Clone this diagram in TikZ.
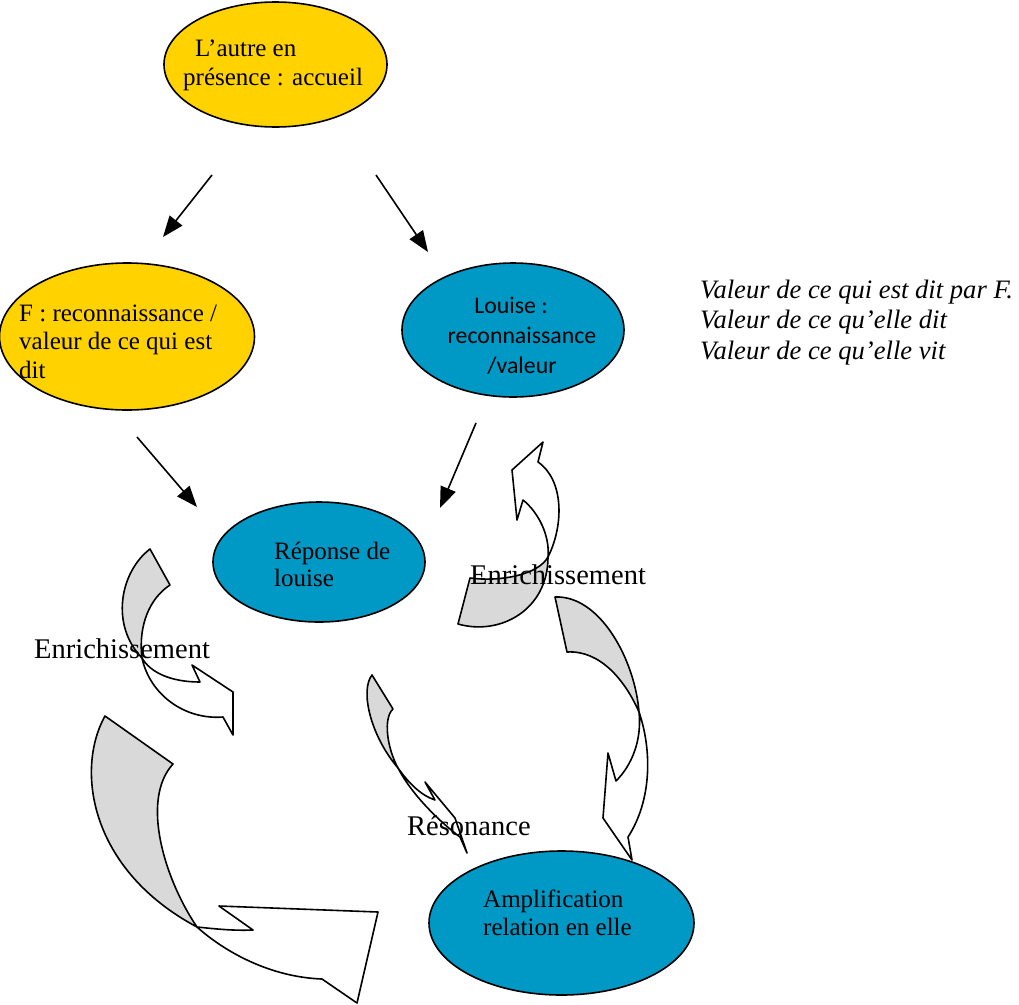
\documentclass[tikz,border=0pt]{standalone}
\usepackage{fontspec}
\setmainfont{Liberation Serif}
\newfontfamily\louisefont{Carlito}
\usetikzlibrary{shapes.geometric}
\usetikzlibrary{arrows, arrows.meta}

\definecolor{bulle jaune}{RGB}{255,210,0}
\definecolor{bulle bleue}{RGB}{0,152,196}
\definecolor{pli gris}{RGB}{217,217,217}

\begin{document}
\begin{tikzpicture}[x=1pt, y=-1pt]

\useasboundingbox (0, 0) rectangle (1019, 1004) ;

\def\trait{1.6pt}

% ellipses

\tikzstyle{bulle} = [shape=ellipse, draw=black, line width=\trait, inner sep=0pt]
\tikzstyle{texte bulle} = [anchor=base west, align=left, inner sep=0pt, font=\fontsize{25}{29}\selectfont]

\node [bulle, fill=bulle jaune, minimum width=223pt, minimum height=125pt] (accueil) at (275.5, 64.5) {} ;
\node [bulle, fill=bulle jaune, minimum width=255pt, minimum height=147pt] (reconnaissance F) at (127, 336.5) {} ;
\node [bulle, fill=bulle bleue, minimum width=222pt, minimum height=134pt] (reconnaissance louise) at (513, 330) {} ;
\node [bulle, fill=bulle bleue, minimum width=212pt, minimum height=120pt] (reponse) at (319, 562) {} ;
\node [bulle, fill=bulle bleue, minimum width=265pt, minimum height=144pt] (amplification) at (561.5, 923) {} ;

% (the base anchor sits on the last line)
\node [texte bulle] (accueil texte) at (183, 85.7) {\hspace*{12pt}L’autre en\\présence : accueil} ;
\node [texte bulle, font=\fontsize{25}{28.3}\selectfont] (F texte) at (19, 378) {F : reconnaissance /\\valeur de ce qui est\\dit} ;
\node [texte bulle, align=center, anchor=base, font=\louisefont\fontsize{23.8}{30}\selectfont] (louise texte) at (522, 373)
	{Louise :\hspace*{22pt}\\reconnaissance\\/valeur} ;
\node [texte bulle, font=\fontsize{25}{27}\selectfont] (reponse texte) at (274, 586) {Réponse de\\louise} ;
\node [texte bulle, font=\fontsize{25}{28}\selectfont] (amplification texte) at (483, 935) {Amplification\\relation en elle} ;

% straight arrows

\tikzstyle{fleche} = [line width=\trait, -{Triangle[length=21pt, width=16pt]}]

\coordinate (depart gauche) at (212, 175) ;
\coordinate (arrivee gauche) at (163, 237) ;
\coordinate (depart droit) at (376, 175) ;
\coordinate (arrivee droit) at (428, 252) ;
\coordinate (depart F) at (137, 437) ;
\coordinate (arrivee F) at (197, 507) ;
\coordinate (depart louise) at (476, 423) ;
\coordinate (arrivee louise) at (440, 508) ;

\draw [fleche] (depart gauche) -- (arrivee gauche) ;
\draw [fleche] (depart droit) -- (arrivee droit) ;
\draw [fleche] (depart F) -- (arrivee F) ;
\draw [fleche] (depart louise) -- (arrivee louise) ;

% curved block arrows

\tikzstyle{pli} = [fill=pli gris, draw=black, line width=\trait, line join=round]
\tikzstyle{face} = [fill=white, draw=black, line width=\trait, line join=round]

% enrichissement, left
\draw [pli] (150, 549) .. controls (120, 572) and (110, 625) .. (142, 658)
	.. controls (138, 625) and (150, 598) .. (170, 585) -- cycle ;
\draw [face] (142, 658) .. controls (150, 672) and (170, 682) .. (200, 682)
	-- (192, 665) -- (233, 692) -- (233, 735) -- (223, 717)
	.. controls (185, 720) and (150, 695) .. (142, 658) -- cycle ;

% big loop, bottom left
\draw [pli] (105, 716) .. controls (75, 770) and (90, 870) .. (197, 927)
	.. controls (165, 880) and (140, 800) .. (173, 764) -- cycle ;
\draw [face] (197, 927) .. controls (225, 952) and (270, 977) .. (322, 979)
	-- (357, 1003) -- (378, 912) -- (219, 906) -- (253, 930)
	.. controls (230, 931) and (208, 928) .. (197, 927) -- cycle ;

% resonance
\draw [pli] (372, 675) .. controls (360, 690) and (370, 735) .. (398, 768)
	.. controls (387, 748) and (383, 718) .. (393, 709) -- cycle ;
\draw [face] (398, 768) .. controls (408, 782) and (420, 795) .. (435, 800)
	-- (425, 782) -- (455, 818) -- (467, 853) -- (460, 837)
	.. controls (440, 822) and (412, 795) .. (398, 768) -- cycle ;

% enrichissement, right (upwards)
\draw [pli] (458, 624) .. controls (500, 636) and (548, 610) .. (548, 557)
	.. controls (538, 575) and (500, 582) .. (470, 578) -- cycle ;
\draw [face] (548, 557) .. controls (564, 525) and (564, 480) .. (538, 462)
	-- (543, 442) -- (512, 470) -- (517, 520) -- (523, 500)
	.. controls (538, 512) and (550, 535) .. (548, 557) -- cycle ;

% long arrow, right
\draw [pli] (555, 597) .. controls (600, 595) and (635, 660) .. (639, 712)
	.. controls (625, 680) and (600, 650) .. (567, 652) -- cycle ;
\draw [face] (639, 712) .. controls (652, 750) and (652, 800) .. (628, 837)
	-- (632, 860) -- (603, 818) -- (608, 753) -- (616, 781)
	.. controls (632, 765) and (642, 740) .. (639, 712) -- cycle ;

% text

\tikzstyle{etiquette} = [anchor=base west, inner sep=0pt, font=\fontsize{28.5}{33}\selectfont]

\node [etiquette] (enrichissement gauche) at (34, 658) {Enrichissement} ;
\node [etiquette] (enrichissement droit) at (470, 584) {Enrichissement} ;
\node [etiquette] (resonance) at (407, 835) {Résonance} ;

\node [etiquette, align=left, font=\itshape\fontsize{26.6}{30.5}\selectfont] (valeurs) at (700, 359)
	{Valeur de ce qui est dit par F.\\Valeur de ce qu’elle dit\\Valeur de ce qu’elle vit} ;

\end{tikzpicture}
\end{document}
